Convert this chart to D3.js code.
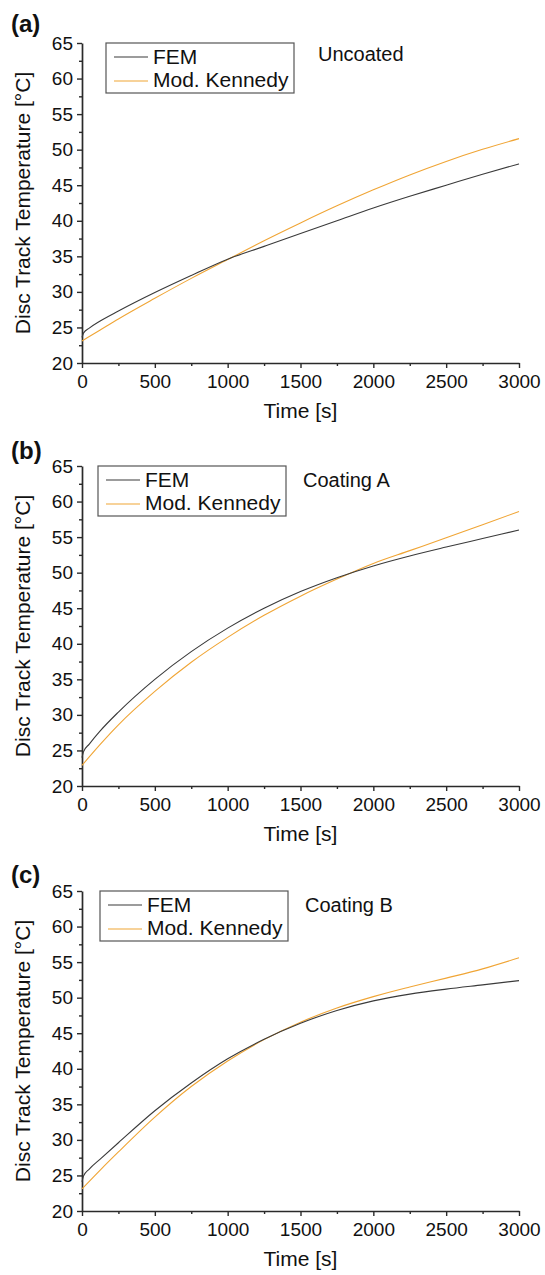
<!DOCTYPE html>
<html>
<head>
<meta charset="utf-8">
<script src="https://cdn.jsdelivr.net/npm/d3@7"></script>
<style>
	body { margin: 0; background: #fff; }
	svg { display: block; font-family: "Liberation Sans", Arial, sans-serif; }
	.domain { stroke: #2a2a2a; stroke-width: 1.7; }
	.tick line { stroke: #2a2a2a; stroke-width: 1.4; }
	.tick text { font-size: 19px; fill: #111; }
</style>
</head>
<body>
<svg width="545" height="1275"></svg>
<script>
// time axes (s)
const timeFem = [0, 10, 50, 125, 250, 500, 750, 1000, 1250, 1500, 1750, 2000, 2250, 2500, 2750, 3000];
const timeKen = [0, 125, 250, 500, 750, 1000, 1250, 1500, 1750, 2000, 2250, 2500, 2750, 3000];

// (a) uncoated
const femA = [23.6, 24.2, 24.9, 25.9, 27.3, 29.9, 32.3, 34.6, 36.4, 38.2, 40.0, 41.8, 43.45, 45.0, 46.55, 48.0];
const kenA = [23.1, 24.65, 26.2, 29.1, 31.9, 34.55, 37.2, 39.7, 42.1, 44.35, 46.45, 48.35, 50.05, 51.55];
// (b) coating A
const femB = [24.0, 24.8, 25.9, 27.75, 30.4, 35.0, 38.9, 42.2, 45.0, 47.35, 49.3, 50.95, 52.35, 53.6, 54.8, 56.0];
const kenB = [22.9, 25.85, 28.6, 33.3, 37.4, 40.9, 44.0, 46.7, 49.1, 51.3, 53.1, 54.9, 56.75, 58.6];
// (c) coating B
const femC = [24.1, 24.9, 25.9, 27.3, 29.6, 34.1, 38.0, 41.4, 44.15, 46.4, 48.2, 49.55, 50.5, 51.2, 51.8, 52.4];
const kenC = [23.1, 25.75, 28.3, 33.2, 37.5, 41.1, 44.1, 46.55, 48.55, 50.15, 51.5, 52.75, 54.05, 55.6];

const xTicks = [0, 500, 1000, 1500, 2000, 2500, 3000];
const yTicks = [20, 25, 30, 35, 40, 45, 50, 55, 60, 65];
const seriesNames = ["FEM", "Mod. Kennedy"];
const panelLabels = ["(a)", "(b)", "(c)"];
const panelNotes = ["Uncoated", "Coating A", "Coating B"];

const colors = { fem: "#3a3a3a", ken: "#f0a535" };

const svg = d3.select("svg");

const panels = [
	{ top: 43, fem: femA, ken: kenA, legX: 106, noteX: 318, noteDy: 18, labelDy: -11 },
	{ top: 466, fem: femB, ken: kenB, legX: 98, noteX: 303, noteDy: 21, labelDy: -7 },
	{ top: 891, fem: femC, ken: kenC, legX: 100, noteX: 305, noteDy: 21, labelDy: -8 }
];

const left = 82, right = 519, plotH = 320;

const xScale = d3.scaleLinear().domain([0, 3000]).range([left, right]);

panels.forEach((p, i) => {
	const bottom = p.top + plotH;
	const yScale = d3.scaleLinear().domain([20, 65]).range([bottom, p.top]);
	const g = svg.append("g");

	// minor ticks first
	g.append("g")
	 .attr("transform", `translate(0, ${bottom})`)
	 .call(d3.axisBottom(xScale).tickValues(d3.range(250, 3000, 500)).tickSize(3).tickFormat(""))
	 .select(".domain").remove();
	g.append("g")
	 .attr("transform", `translate(${left}, 0)`)
	 .call(d3.axisLeft(yScale).tickValues(d3.range(22.5, 65, 5)).tickSize(3).tickFormat(""))
	 .select(".domain").remove();

	g.append("g")
	 .attr("transform", `translate(0, ${bottom})`)
	 .call(d3.axisBottom(xScale).tickValues(xTicks).tickSize(5).tickSizeOuter(0).tickPadding(7).tickFormat(d3.format("d")));
	g.append("g")
	 .attr("transform", `translate(${left}, 0)`)
	 .call(d3.axisLeft(yScale).tickValues(yTicks).tickSize(5).tickSizeOuter(0).tickPadding(4).tickFormat(d3.format("d")));

	g.selectAll(".tick text").attr("font-family", null).attr("font-size", null);

	const lineFem = d3.line()
		.x((d, k) => xScale(timeFem[k]))
		.y(d => yScale(d))
		.curve(d3.curveMonotoneX);
	const lineKen = d3.line()
		.x((d, k) => xScale(timeKen[k]))
		.y(d => yScale(d))
		.curve(d3.curveMonotoneX);

	g.append("path").datum(p.ken)
	 .attr("d", lineKen)
	 .attr("fill", "none").attr("stroke", colors.ken).attr("stroke-width", 1.1);
	g.append("path").datum(p.fem)
	 .attr("d", lineFem)
	 .attr("fill", "none").attr("stroke", colors.fem).attr("stroke-width", 1.1);

	// axis titles
	g.append("text")
	 .attr("x", (left + right) / 2)
	 .attr("y", bottom + 55)
	 .attr("text-anchor", "middle")
	 .attr("font-size", 21)
	 .attr("fill", "#111")
	 .text("Time [s]");
	g.append("text")
	 .attr("transform", `translate(30, ${(p.top + bottom) / 2}) rotate(-90)`)
	 .attr("text-anchor", "middle")
	 .attr("font-size", 21)
	 .attr("fill", "#111")
	 .text("Disc Track Temperature [°C]");

	// panel label
	g.append("text")
	 .attr("x", 11)
	 .attr("y", p.top + p.labelDy)
	 .attr("font-size", 24)
	 .attr("font-weight", "bold")
	 .attr("fill", "#111")
	 .text(panelLabels[i]);

	// note
	g.append("text")
	 .attr("x", p.noteX)
	 .attr("y", p.top + p.noteDy)
	 .attr("font-size", 20)
	 .attr("fill", "#111")
	 .text(panelNotes[i]);

	// legend
	const leg = g.append("g").attr("transform", `translate(${p.legX}, ${p.top})`);
	leg.append("rect")
	   .attr("width", 188).attr("height", 50)
	   .attr("fill", "#fff").attr("stroke", "#555").attr("stroke-width", 1.2);
	[colors.fem, colors.ken].forEach((c, k) => {
		leg.append("line")
		   .attr("x1", 8).attr("x2", 42)
		   .attr("y1", 14 + k * 24).attr("y2", 14 + k * 24)
		   .attr("stroke", c).attr("stroke-width", 1.2);
		leg.append("text")
		   .attr("x", 47).attr("y", 21 + k * 23)
		   .attr("font-size", 21)
		   .attr("fill", "#111")
		   .text(seriesNames[k]);
	});
});
</script>
</body>
</html>
